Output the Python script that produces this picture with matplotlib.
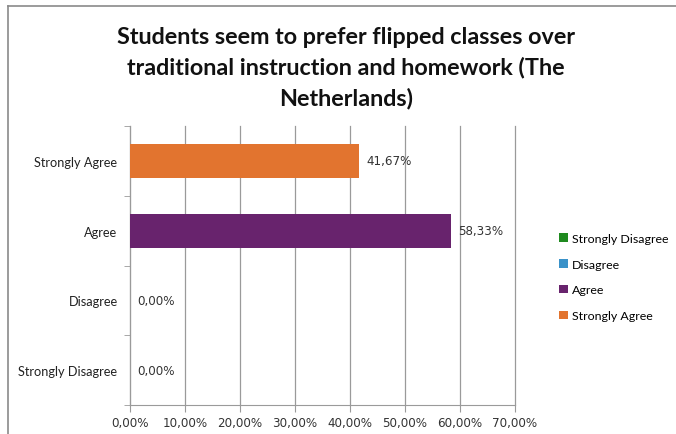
import matplotlib
matplotlib.use("Agg")
import matplotlib.pyplot as plt
from matplotlib.patches import Patch
from matplotlib.lines import Line2D

categories = ["Strongly Disagree", "Disagree", "Agree", "Strongly Agree"]
values = [0.0, 0.0, 58.33, 41.67]
colors = ["#1F8A1F", "#3A92C9", "#68236D", "#E2742F"]
xticks = [0, 10, 20, 30, 40, 50, 60, 70]
title = "Students seem to prefer flipped classes over\ntraditional instruction and homework (The\nNetherlands)"

def pct(v):
    return f"{v:.2f}".replace(".", ",") + "%"

fig = plt.figure(figsize=(6.76, 4.35), dpi=100)
ax = fig.add_axes([130/676, 1-406/435, (515-130)/676, (406-127)/435])

ypos = list(range(len(categories)))
ax.barh(ypos, values, height=0.49, color=colors, zorder=3)
for y, v in zip(ypos, values):
    ax.text(v + 1.3, y, pct(v), va="center", ha="left", fontsize=8.6,
            family="DejaVu Sans", color="#333333")

ax.set_xlim(0, 70)
ax.set_ylim(-0.5, len(categories) - 0.5)
ax.set_xticks(xticks)
ax.set_xticklabels([pct(t) for t in xticks], fontsize=8.6, family="DejaVu Sans", color="#333333")
ax.set_yticks(ypos)
ax.set_yticklabels(categories, fontsize=9.2, family="Lato", color="#222222")
ax.set_yticks([i + 0.5 for i in range(-1, len(categories))], minor=True)
ax.tick_params(axis="y", which="major", length=0, pad=9)
ax.tick_params(axis="y", which="minor", length=4, color="#9a9a9a")
ax.tick_params(axis="x", which="major", length=5, color="#9a9a9a", pad=3)
ax.grid(axis="x", color="#9a9a9a", linewidth=0.9, zorder=0)
for gl in ax.get_xgridlines():
    gl.set_clip_on(False)
for s in ["top", "right"]:
    ax.spines[s].set_visible(False)
ax.spines["left"].set_color("#9a9a9a")
ax.spines["bottom"].set_color("#9a9a9a")

fig.text(346/676, 1-68/435, title, ha="center", va="center", fontsize=16.8,
         family="Lato", fontweight="bold", color="#111111", linespacing=1.5)

handles = [Patch(facecolor=c, edgecolor="none") for c in colors]
fig.legend(handles, categories, loc="center left", bbox_to_anchor=(548/676, 1-278/435),
           frameon=False, prop={"family": "Lato", "size": 8.9}, handlelength=0.7,
           handleheight=0.7, handletextpad=0.35, labelspacing=1.2)

# outer chart border (top and left visible)
fig.add_artist(Line2D([8/676, 1], [1-7/435, 1-7/435], color="#8a8a8a", linewidth=1.2))
fig.add_artist(Line2D([8/676, 8/676], [0, 1-7/435], color="#8a8a8a", linewidth=1.2))

fig.savefig("out.png", dpi=100)
